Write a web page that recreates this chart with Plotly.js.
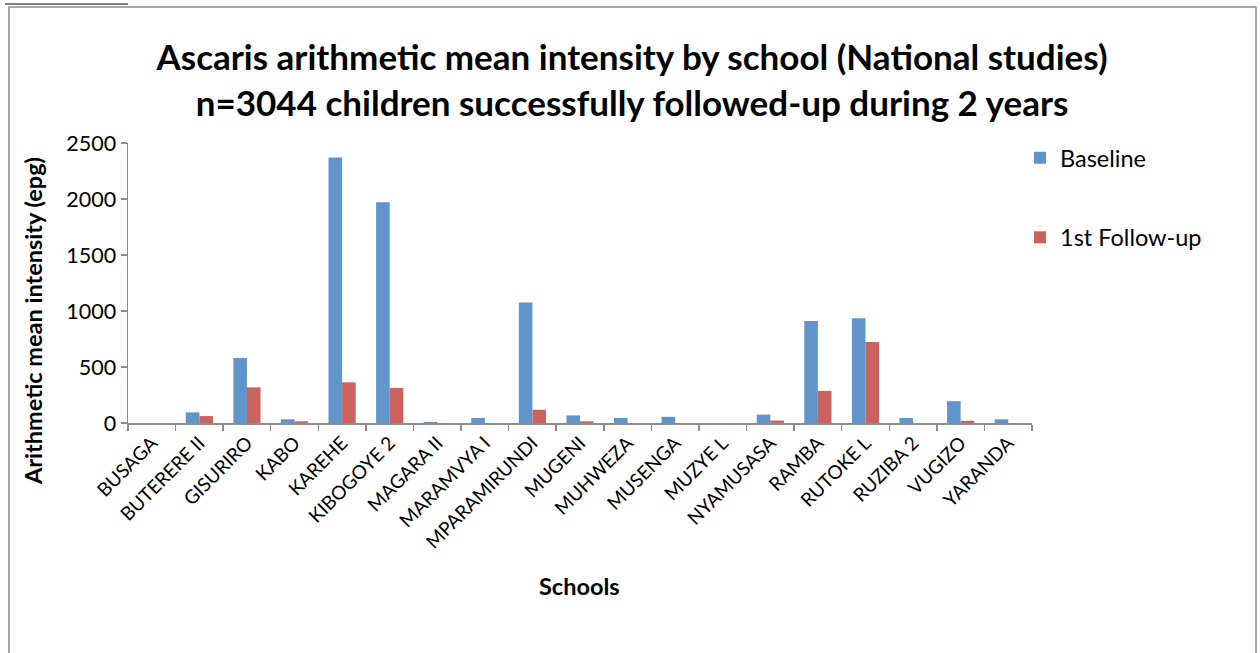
<!DOCTYPE html>
<html>
<head>
<meta charset="utf-8">
<script src="https://cdn.plot.ly/plotly-3.0.1.min.js"></script>
<style>
  html, body { margin: 0; padding: 0; background: #fff; }
  #chart { width: 1260px; height: 653px; }
</style>
</head>
<body>
<div id="chart"></div>
<script>
// Schools in the national study
const schools = [
  'BUSAGA', 'BUTERERE II', 'GISURIRO', 'KABO', 'KAREHE', 'KIBOGOYE 2',
  'MAGARA II', 'MARAMVYA I', 'MPARAMIRUNDI', 'MUGENI', 'MUHWEZA', 'MUSENGA',
  'MUZYE L', 'NYAMUSASA', 'RAMBA', 'RUTOKE L', 'RUZIBA 2', 'VUGIZO', 'YARANDA'
];

// Ascaris arithmetic mean intensity (eggs per gram)
const baseline = [0, 95, 580, 33, 2370, 1970, 10, 45, 1075, 68, 45, 55, 0, 75, 910, 935, 45, 195, 33];
const followUp1 = [0, 62, 318, 15, 363, 313, 0, 0, 118, 15, 0, 0, 0, 22, 287, 723, 0, 20, 0];

const yTicks = [0, 500, 1000, 1500, 2000, 2500];

const FONT = 'Lato, "Open Sans", sans-serif';
const GREY = '#8c8c8c';

const traces = [
  {
    type: 'bar', name: 'Baseline', x: schools, y: baseline,
    legendgroup: 'b',
    marker: { color: '#5f95cb', line: { width: 0 } },
    hoverinfo: 'x+y'
  },
  {
    type: 'bar', name: '1st Follow-up', x: schools, y: followUp1,
    legendgroup: 'f',
    marker: { color: '#cc625d', line: { width: 0 } },
    hoverinfo: 'x+y'
  }
];

// plot area: 128..1032 px across, 143..423 px down
const L = 128, R = 1032, T = 143, B = 423;
const px = v => (v - L) / (R - L);
const py = v => (B - v) / (B - T);

const layout = {
  width: 1260, height: 653,
  paper_bgcolor: '#fff', plot_bgcolor: '#fff',
  margin: { l: L, r: 1260 - R, t: T, b: 653 - B, pad: 0 },
  font: { family: FONT, color: '#000' },
  barmode: 'group',
  bargap: 0.4286,
  bargroupgap: 0,
  showlegend: true,
  title: {
    text: '<b>Ascaris arithmetic mean intensity by school (National studies)<br>n=3044 children successfully followed-up during 2 years</b>',
    font: { family: FONT, size: 35, color: '#000' },
    xref: 'container', x: 632 / 1260, xanchor: 'center',
    yref: 'container', y: 1 - 70 / 653, yanchor: 'top'
  },
  xaxis: {
    type: 'category',
    categoryorder: 'array', categoryarray: schools,
    showline: true, linecolor: GREY, linewidth: 1.5,
    ticks: 'outside', tickson: 'boundaries', ticklen: 6, tickcolor: GREY, tickwidth: 1.5,
    tickangle: -45,
    tickfont: { family: FONT, size: 19, color: '#000' },
    showgrid: false, zeroline: false,
    fixedrange: true
  },
  yaxis: {
    range: [0, 2500],
    tickvals: yTicks,
    ticktext: yTicks.map(String),
    showline: true, linecolor: GREY, linewidth: 1.5,
    ticks: 'outside', ticklen: 6, tickcolor: GREY, tickwidth: 1.5,
    tickfont: { family: FONT, size: 21.5, color: '#000' },
    showgrid: false, zeroline: false,
    fixedrange: true
  },
  legend: {
    x: px(1020), xanchor: 'left',
    y: py(136), yanchor: 'top',
    font: { family: FONT, size: 23.5, color: '#000' },
    tracegroupgap: 46,
    itemwidth: 30,
    bgcolor: 'rgba(0,0,0,0)'
  },
  annotations: [
    {
      text: '<b>Arithmetic mean intensity (epg)</b>',
      xref: 'paper', yref: 'paper',
      x: px(33), y: py(321),
      xanchor: 'center', yanchor: 'middle',
      textangle: -90, showarrow: false,
      font: { family: FONT, size: 23.5, color: '#000' }
    },
    {
      text: '<b>Schools</b>',
      xref: 'paper', yref: 'paper',
      x: px(579), y: py(586),
      xanchor: 'center', yanchor: 'middle',
      showarrow: false,
      font: { family: FONT, size: 23.5, color: '#000' }
    }
  ],
  shapes: [
    // outer chart frame
    {
      type: 'rect', xref: 'paper', yref: 'paper',
      x0: px(9), x1: px(1256), y0: py(670), y1: py(7),
      line: { color: '#8a8a8a', width: 1.5 }, fillcolor: 'rgba(0,0,0,0)',
      layer: 'below'
    },
    // caption underline
    {
      type: 'line', xref: 'paper', yref: 'paper',
      x0: px(5), x1: px(128), y0: py(4), y1: py(4),
      line: { color: '#000', width: 1.2 }
    }
  ]
};

Plotly.newPlot('chart', traces, layout, { displayModeBar: false, staticPlot: true });
</script>
</body>
</html>
